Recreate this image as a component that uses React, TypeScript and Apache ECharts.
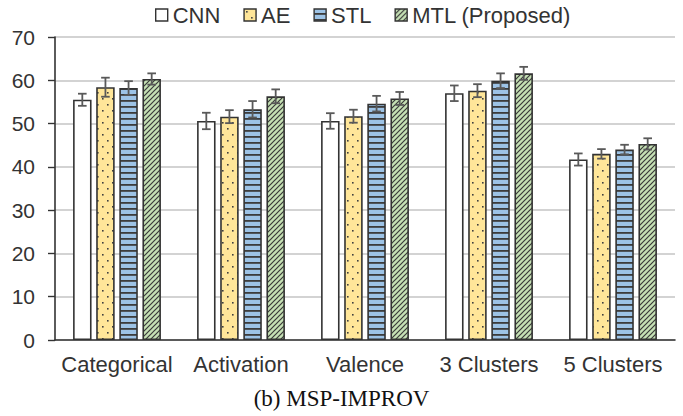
import React, { useEffect, useRef } from "react";
import * as echarts from "echarts";

const categories = ["Categorical", "Activation", "Valence", "3 Clusters", "5 Clusters"];
const seriesNames = ["CNN", "AE", "STL", "MTL (Proposed)"];
const cnnValues = [55.5, 50.6, 50.6, 57.0, 41.7];
const aeValues = [58.4, 51.6, 51.7, 57.6, 43.0];
const stlValues = [58.2, 53.3, 54.6, 59.9, 44.0];
const mtlValues = [60.3, 56.3, 55.8, 61.6, 45.3];
const cnnErrors = [1.4, 1.9, 1.8, 1.8, 1.4];
const aeErrors = [2.2, 1.5, 1.5, 1.5, 1.1];
const stlErrors = [1.6, 1.9, 1.8, 1.7, 1.1];
const mtlErrors = [1.3, 1.6, 1.5, 1.5, 1.3];
const yTicks = [0, 10, 20, 30, 40, 50, 60, 70];
const caption = "(b) MSP-IMPROV";

const SANS = "'Liberation Sans', Arial, sans-serif";
const SERIF = "'Liberation Serif', 'Times New Roman', serif";
const BAR_W = 18.5;
const GAP = 0.25;

function makePattern(w: number, h: number, draw: (ctx: CanvasRenderingContext2D) => void) {
  const c = document.createElement("canvas");
  c.width = w;
  c.height = h;
  const ctx = c.getContext("2d") as CanvasRenderingContext2D;
  draw(ctx);
  return { image: c, repeat: "repeat", imageWidth: w, imageHeight: h } as any;
}

export default function App() {
  const ref = useRef<HTMLDivElement>(null);
  useEffect(() => {
    document.body.style.margin = "0";
    if (!ref.current) return;
    const chart = echarts.init(ref.current, undefined, { renderer: "svg" });

    const whiteFill = "#FFFFFF";
    const dotPattern = makePattern(10, 12, (ctx) => {
      ctx.fillStyle = "#FFE699";
      ctx.fillRect(0, 0, 10, 12);
      ctx.fillStyle = "#404040";
      ctx.fillRect(2, 2, 1.6, 1.6);
      ctx.fillRect(7, 8, 1.6, 1.6);
    });
    const stripePattern = makePattern(6, 6, (ctx) => {
      ctx.fillStyle = "#9DC3E6";
      ctx.fillRect(0, 0, 6, 6);
      ctx.fillStyle = "#3C3C3C";
      ctx.fillRect(0, 4, 6, 1.8);
    });
    const diagPattern = makePattern(5, 5, (ctx) => {
      ctx.fillStyle = "#C5E0B4";
      ctx.fillRect(0, 0, 5, 5);
      ctx.strokeStyle = "#3A3A3A";
      ctx.lineWidth = 1.2;
      ctx.beginPath();
      ctx.moveTo(-1, 6);
      ctx.lineTo(6, -1);
      ctx.moveTo(-1, 1);
      ctx.lineTo(1, -1);
      ctx.moveTo(4, 6);
      ctx.lineTo(6, 4);
      ctx.stroke();
    });

    const values = [cnnValues, aeValues, stlValues, mtlValues];
    const errors = [cnnErrors, aeErrors, stlErrors, mtlErrors];
    const fills = [whiteFill, dotPattern, stripePattern, diagPattern];

    const barSeries = seriesNames.map((name, i) => ({
      name,
      type: "bar",
      data: values[i],
      barWidth: BAR_W,
      barGap: GAP * 100 + "%",
      itemStyle: { color: fills[i], borderColor: "#333333", borderWidth: 1.6 },
      z: 2,
    }));

    const errData: number[][] = [];
    values.forEach((vals, si) => {
      vals.forEach((v, ci) => {
        errData.push([ci, si, v, errors[si][ci]]);
      });
    });

    const pitch = BAR_W * (1 + GAP);

    const errSeries = {
      type: "custom",
      name: "err",
      data: errData,
      encode: { x: 0, y: 2 },
      z: 5,
      silent: true,
      renderItem: (params: any, api: any) => {
        const cat = api.value(0);
        const si = api.value(1);
        const v = api.value(2);
        const e = api.value(3);
        const c = api.coord([cat, v]);
        const x = c[0] + (si - 1.5) * pitch;
        const top = api.coord([cat, v + e])[1];
        const bot = api.coord([cat, v - e])[1];
        const style = { stroke: "#595959", lineWidth: 1.8 };
        const hw = 4.3;
        return {
          type: "group",
          children: [
            { type: "line", shape: { x1: x, y1: top, x2: x, y2: bot }, style },
            { type: "line", shape: { x1: x - hw, y1: top, x2: x + hw, y2: top }, style },
            { type: "line", shape: { x1: x - hw, y1: bot, x2: x + hw, y2: bot }, style },
          ],
        };
      },
    };

    chart.setOption({
      animation: false,
      legend: {
        data: seriesNames,
        icon: "rect",
        left: 150,
        top: -1,
        itemWidth: 12,
        itemHeight: 12,
        itemGap: 23,
        textStyle: { fontFamily: SANS, fontSize: 22, color: "#333333" },
        itemStyle: { borderColor: "#333333", borderWidth: 1.4 },
      },
      grid: { left: 55, right: 8, top: 37, bottom: 76, containLabel: false },
      xAxis: {
        type: "category",
        data: categories,
        axisLine: { lineStyle: { color: "#333333", width: 1.6 } },
        axisTick: { alignWithLabel: true, length: 6, lineStyle: { color: "#333333", width: 1.4 } },
        axisLabel: { interval: 0, fontFamily: SANS, fontSize: 22, color: "#333333", margin: 13 },
      },
      yAxis: {
        type: "value",
        min: yTicks[0],
        max: yTicks[yTicks.length - 1],
        interval: 10,
        axisLine: { show: true, lineStyle: { color: "#333333", width: 1.6 } },
        axisTick: { show: true, length: 7, lineStyle: { color: "#333333", width: 1.4 } },
        axisLabel: { fontFamily: SANS, fontSize: 21, color: "#333333", margin: 20 },
        splitLine: { lineStyle: { color: "#C4C4C4", width: 1.6 } },
      },
      graphic: [
        {
          type: "text",
          left: "center",
          top: 387,
          style: { text: caption, font: "23px " + SERIF, fill: "#111111" },
        },
      ],
      series: [...barSeries, errSeries],
    });
    return () => chart.dispose();
  }, []);
  return <div ref={ref} style={{ width: 683, height: 416 }} />;
}
